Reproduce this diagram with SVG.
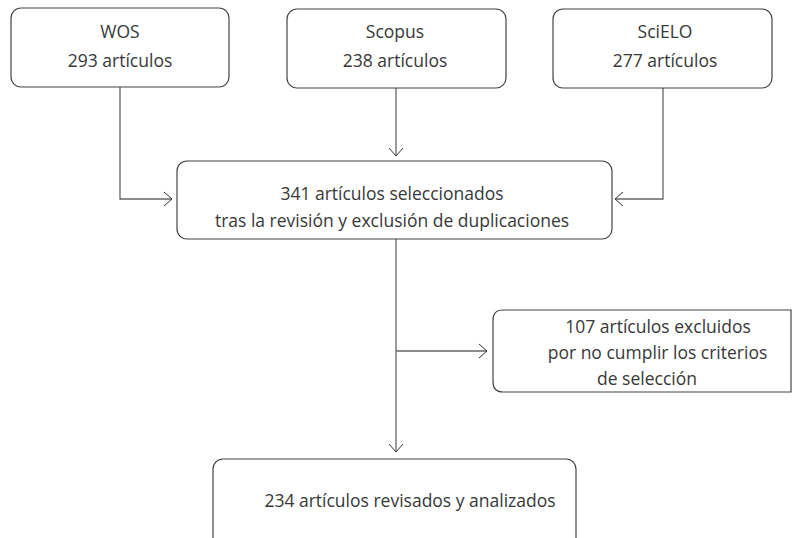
<svg xmlns="http://www.w3.org/2000/svg" width="792" height="538" viewBox="0 0 792 538">
<defs>
<style>
.box{fill:#fff;stroke:#444;stroke-width:1.2}
.t{font-family:"Open Sans","Noto Sans",sans-serif;font-size:17.5px;fill:#383838;text-anchor:middle}
.ln{fill:none;stroke:#666;stroke-width:1.3}
</style>
<marker id="ah" viewBox="-10 -8 12 16" markerWidth="12" markerHeight="16" refX="0" refY="0" orient="auto" markerUnits="userSpaceOnUse">
<path d="M-8,-7 L0,0 L-8,7" fill="none" stroke="#333" stroke-width="1"/>
</marker>
</defs>
<rect width="792" height="538" fill="#fff"/>
<g id="connectors">
<path class="ln" d="M120,87 V199 H172" marker-end="url(#ah)"/>
<path class="ln" d="M396,88 V156" marker-end="url(#ah)"/>
<path class="ln" d="M663,88 V199 H615" marker-end="url(#ah)"/>
<path class="ln" d="M396,239 V452" marker-end="url(#ah)"/>
<path class="ln" d="M396,351 H487" marker-end="url(#ah)"/>
</g>
<g id="wos">
<rect class="box" x="11" y="8" width="218" height="79" rx="10"/>
<text class="t" x="120" y="38">WOS</text>
<text class="t" x="120" y="67">293 artículos</text>
</g>
<g id="scopus">
<rect class="box" x="287" y="9" width="219" height="79" rx="10"/>
<text class="t" x="395" y="38">Scopus</text>
<text class="t" x="395" y="67">238 artículos</text>
</g>
<g id="scielo">
<rect class="box" x="553" y="9" width="219" height="79" rx="10"/>
<text class="t" x="665" y="38">SciELO</text>
<text class="t" x="665" y="67">277 artículos</text>
</g>
<g id="seleccionados">
<rect class="box" x="177" y="161" width="435" height="78" rx="10"/>
<text class="t" x="392" y="200">341 artículos seleccionados</text>
<text class="t" x="392" y="227">tras la revisión y exclusión de duplicaciones</text>
</g>
<g id="excluidos">
<path class="box" d="M791,310 H503 Q493,310 493,320 V382 Q493,392 503,392 H791 Z"/>
<text class="t" x="658" y="333">107 artículos excluidos</text>
<text class="t" x="657.5" y="359">por no cumplir los criterios</text>
<text class="t" x="647" y="385">de selección</text>
</g>
<g id="analizados">
<rect class="box" x="213" y="459" width="363" height="100" rx="10"/>
<text class="t" x="410" y="507">234 artículos revisados y analizados</text>
</g>
</svg>
